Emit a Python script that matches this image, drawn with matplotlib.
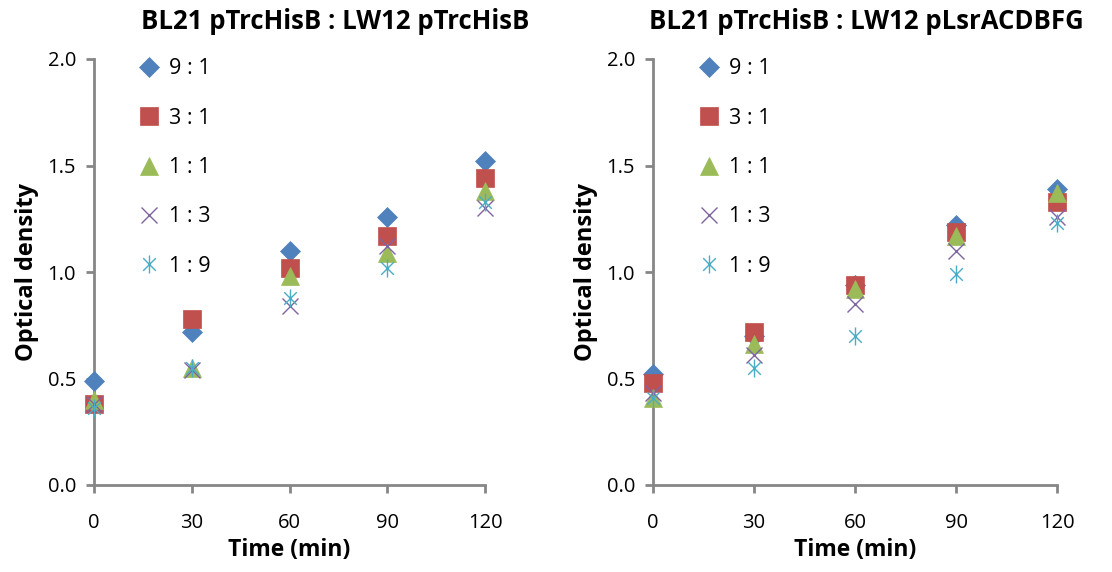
import numpy as np
import matplotlib
matplotlib.use("Agg")
import matplotlib.pyplot as plt
from matplotlib.path import Path

plt.rcParams.update({
    "font.family": ["Open Sans", "DejaVu Sans"],
    "font.size": 14,
})

time_min = [0, 30, 60, 90, 120]
ratios = ["9 : 1", "3 : 1", "1 : 1", "1 : 3", "1 : 9"]
titles = ["BL21 pTrcHisB : LW12 pTrcHisB", "BL21 pTrcHisB : LW12 pLsrACDBFG"]

# optical density, one row per ratio
od_left = [
    [0.49, 0.72, 1.10, 1.26, 1.52],
    [0.38, 0.78, 1.02, 1.17, 1.44],
    [0.40, 0.55, 0.98, 1.09, 1.38],
    [0.38, 0.54, 0.84, 1.12, 1.30],
    [0.36, 0.55, 0.88, 1.02, 1.33],
]
od_right = [
    [0.52, 0.70, 0.94, 1.22, 1.39],
    [0.48, 0.72, 0.94, 1.19, 1.33],
    [0.41, 0.66, 0.92, 1.17, 1.37],
    [0.43, 0.61, 0.85, 1.10, 1.26],
    [0.41, 0.55, 0.70, 0.99, 1.23],
]

colors = ["#4F81BD", "#C0504D", "#9BBB59", "#8064A2", "#4BACC6"]

# excel-style asterisk: vertical bar plus an x
star = Path(
    [(0, -1), (0, 1), (-0.7, -0.7), (0.7, 0.7), (-0.7, 0.7), (0.7, -0.7)],
    [Path.MOVETO, Path.LINETO, Path.MOVETO, Path.LINETO, Path.MOVETO, Path.LINETO],
)
markers = ["D", "s", "^", "x", star]
msizes = [10, 13, 13, 11, 13]

fig = plt.figure(figsize=(11.12, 5.72), dpi=100)
axes = [
    fig.add_axes([94 / 1112, 87 / 572, 391 / 1112, 426 / 572]),
    fig.add_axes([653 / 1112, 87 / 572, 404 / 1112, 426 / 572]),
]
title_x = [335 / 1112, 866 / 1112]
axis_gray = "#868686"

for ax, data, title, tx in zip(axes, [od_left, od_right], titles, title_x):
    for vals, lab, c, m, ms in zip(data, ratios, colors, markers, msizes):
        filled = m in ("D", "s", "^")
        ax.plot(time_min, vals, linestyle="none", marker=m, markersize=ms,
                color=c, markeredgecolor=c,
                markeredgewidth=0.5 if filled else 1.0,
                label=lab, clip_on=False, zorder=3)

    ax.set_xlim(0, 120)
    ax.set_ylim(0, 2.0)
    ax.set_xticks(time_min)
    ax.set_yticks([0.0, 0.5, 1.0, 1.5, 2.0])
    ax.set_yticklabels([f"{v:.1f}" for v in [0.0, 0.5, 1.0, 1.5, 2.0]])
    for s in ["top", "right"]:
        ax.spines[s].set_visible(False)
    for s in ["left", "bottom"]:
        ax.spines[s].set_color(axis_gray)
        ax.spines[s].set_linewidth(2)
    ax.tick_params(axis="both", colors=axis_gray, width=2, length=6,
                   labelcolor="black", labelsize=14.5)
    ax.tick_params(axis="x", pad=14)
    ax.tick_params(axis="y", pad=7)

    ax.set_xlabel("Time (min)", fontsize=16.5, fontweight="bold", labelpad=4)
    ax.set_ylabel("Optical density", fontsize=17, fontweight="bold", labelpad=6)
    fig.text(tx, 0.962, title, ha="center", va="center",
             fontsize=18.5, fontweight="bold")

    ax.legend(loc="upper left", bbox_to_anchor=(0.085, 1.022), frameon=False,
              labelspacing=1.32, handletextpad=0.35, handlelength=1.2,
              fontsize=15.5, borderaxespad=0)

fig.savefig("out.png", dpi=100)
